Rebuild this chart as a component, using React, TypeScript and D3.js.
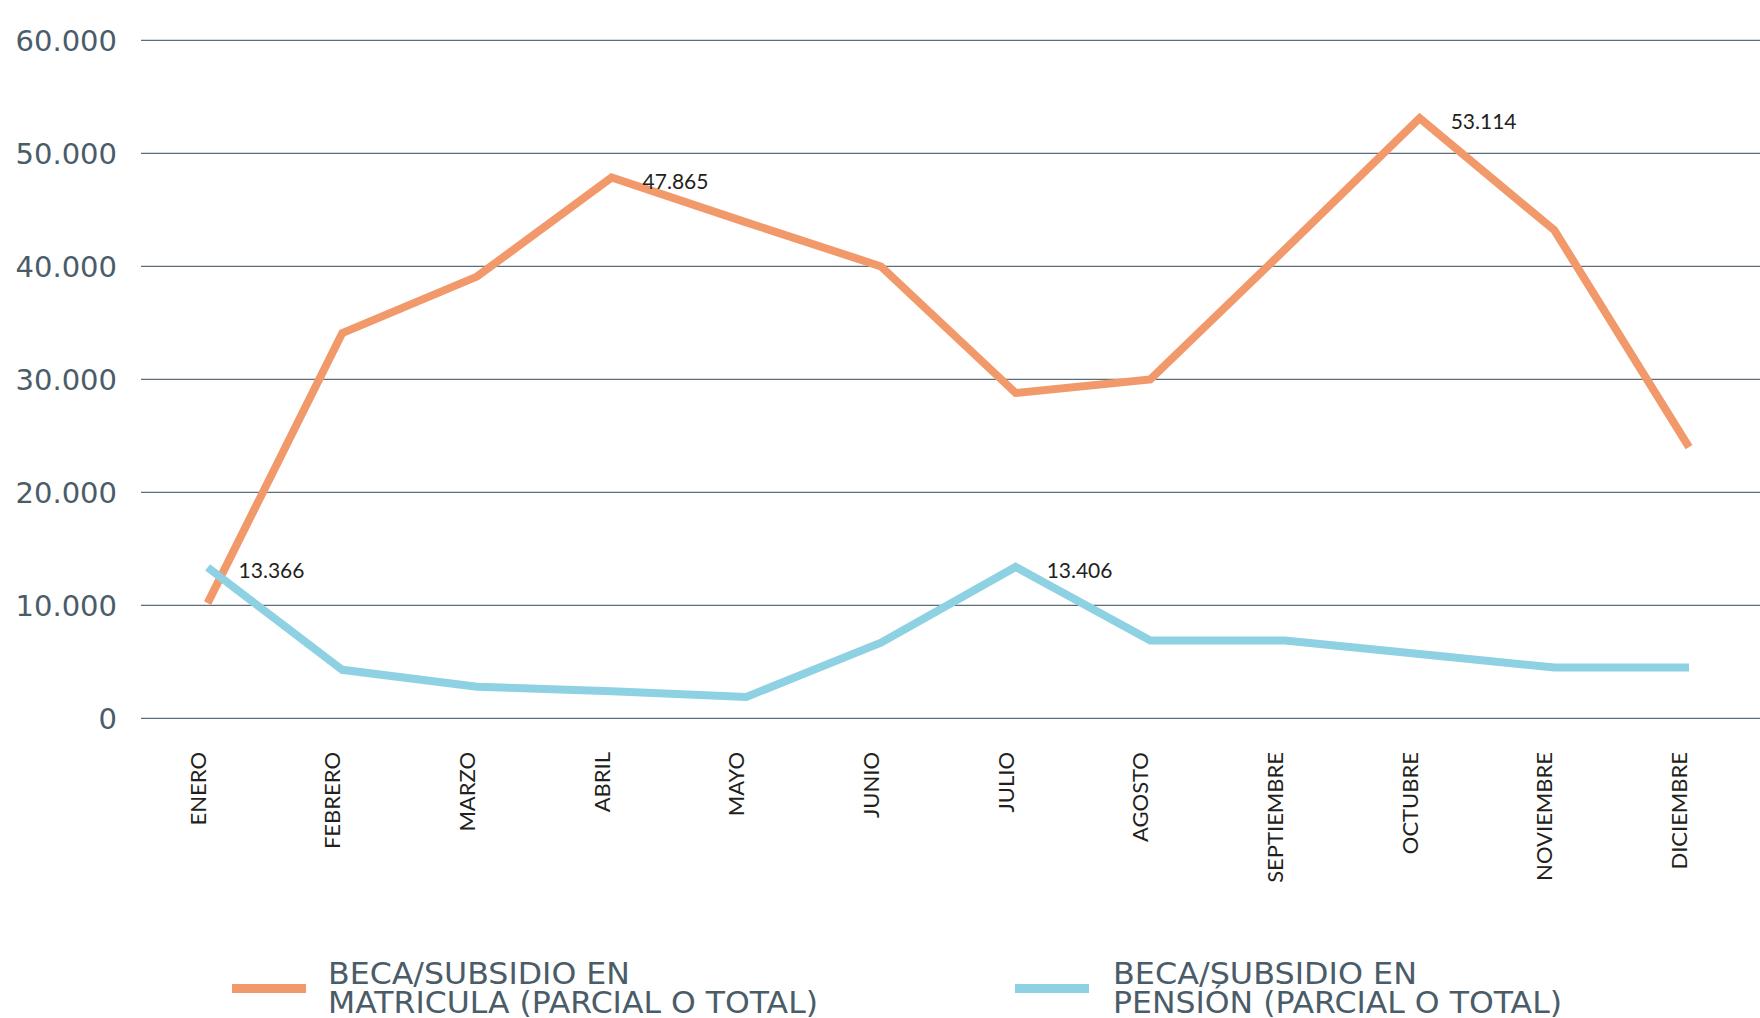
import React from "react";
import * as d3 from "d3";

const months = ["ENERO","FEBRERO","MARZO","ABRIL","MAYO","JUNIO","JULIO","AGOSTO","SEPTIEMBRE","OCTUBRE","NOVIEMBRE","DICIEMBRE"];
const matricula = [10200, 34100, 39100, 47865, 43900, 40000, 28800, 30000, 41500, 53114, 43200, 24000];
const pension = [13366, 4300, 2800, 2400, 1900, 6700, 13406, 6900, 6900, 5700, 4500, 4500];
const matriculaLabeled = ["ABRIL", "OCTUBRE"];
const pensionLabeled = ["ENERO", "JULIO"];
const yTicks = [0, 10000, 20000, 30000, 40000, 50000, 60000];
const legendMatricula = ["BECA/SUBSIDIO  EN", "MATRICULA (PARCIAL O TOTAL)"];
const legendPension = ["BECA/SUBSIDIO  EN", "PENSIÓN (PARCIAL O TOTAL)"];

const W = 1760, H = 1018;
const ORANGE = "#F2996B";
const BLUE = "#8DD1E2";
const SLATE = "#4b5c69";
const GRID = "#5d6d79";

const locale = d3.formatLocale({ decimal: ",", thousands: ".", grouping: [3], currency: ["", ""] });
const fmt = locale.format(",d");

export default function App() {
  const x = d3.scalePoint<string>().domain(months).range([207.6, 1689]).padding(0);
  const y = d3.scaleLinear().domain([0, 60000]).range([718.4, 40.4]);
  const line = d3.line<number>().x((_, i) => x(months[i]) as number).y((d) => y(d));

  const series = [
    { values: matricula, color: ORANGE, labeled: matriculaLabeled },
    { values: pension, color: BLUE, labeled: pensionLabeled },
  ];

  const legends = [
    { lines: legendMatricula, color: ORANGE, sx: 232, sw: 74, tx: 328, widths: [302, 490] },
    { lines: legendPension, color: BLUE, sx: 1015, sw: 74, tx: 1113, widths: [304, 449] },
  ];

  return (
    <div style={{ position: "absolute", left: 0, top: 0 }}>
      <svg width={W} height={H} style={{ display: "block", background: "#fff" }}>
        {yTicks.map((t) => (
          <g key={t}>
            <line x1={141} x2={W} y1={y(t)} y2={y(t)} stroke={GRID} strokeWidth={1.4} />
            <text x={117} y={y(t) + 10.5} textAnchor="end" fontFamily="DejaVu Sans" fontSize={29} fill={SLATE}>
              {fmt(t)}
            </text>
          </g>
        ))}
        {months.map((m) => (
          <text
            key={m}
            transform={`translate(${(x(m) as number) - 2},752) rotate(-90)`}
            textAnchor="end"
            fontFamily="Lato"
            fontSize={22}
            fill="#231f20"
          >
            {m}
          </text>
        ))}
        {series.map((s, k) => (
          <path
            key={k}
            d={line(s.values) || ""}
            fill="none"
            stroke={s.color}
            strokeWidth={8}
            strokeLinejoin="miter"
            strokeLinecap="butt"
          />
        ))}
        {series.map((s, k) =>
          s.labeled.map((m) => {
            const i = months.indexOf(m);
            return (
              <text
                key={`${k}-${m}`}
                x={(x(m) as number) + 31}
                y={y(s.values[i]) + 11}
                fontFamily="Lato"
                fontSize={21}
                fill="#231f20"
              >
                {fmt(s.values[i])}
              </text>
            );
          })
        )}
        {legends.map((l, k) => (
          <g key={k}>
            <rect x={l.sx} y={984} width={l.sw} height={9} fill={l.color} />
            {l.lines.map((t, j) => (
              <text
                key={j}
                x={l.tx}
                y={984 + j * 29}
                fontFamily="DejaVu Sans"
                fontSize={31}
                fill={SLATE}
                textLength={l.widths[j]}
                lengthAdjust="spacingAndGlyphs"
              >
                {t}
              </text>
            ))}
          </g>
        ))}
      </svg>
    </div>
  );
}
